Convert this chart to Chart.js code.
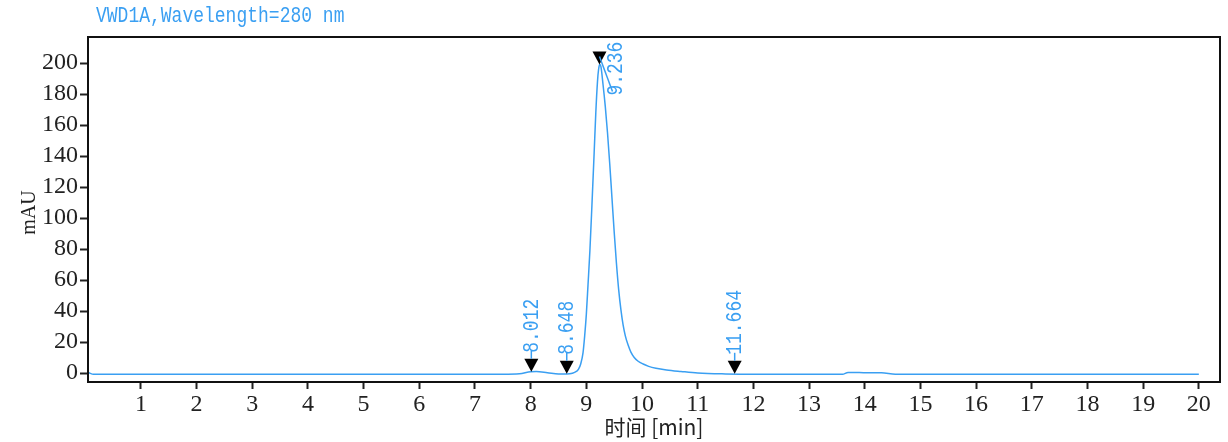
<!DOCTYPE html>
<html>
<head>
<meta charset="utf-8">
<script src="https://cdn.jsdelivr.net/npm/chart.js@4.4.1/dist/chart.umd.min.js"></script>
<style>
  html, body { margin: 0; padding: 0; background: #fff; }
  #wrap { width: 1228px; height: 442px; }
</style>
</head>
<body>
<div id="wrap"><canvas id="chromatogram" width="1228" height="442"></canvas></div>
<script>
// trace: retention time [min] / signal [mAU]
const times = [0, 0.05, 0.15, 2, 4, 6, 7.5, 7.8, 8.0, 8.1, 8.3, 8.5, 8.65, 8.75, 8.82, 8.86, 8.9, 8.94, 8.97, 9.0, 9.03, 9.064, 9.1, 9.14, 9.17, 9.2, 9.22, 9.24, 9.26, 9.3, 9.34, 9.38, 9.42, 9.46, 9.5, 9.54, 9.58, 9.62, 9.66, 9.7, 9.75, 9.8, 9.86, 9.93, 10.02, 10.12, 10.25, 10.44, 10.7, 11.0, 11.5, 12, 13.6, 13.7, 13.9, 14.1, 14.3, 14.55, 16, 18, 20];
const signal = [0.5, 0.3, -0.8, -0.8, -0.8, -0.8, -0.8, -0.5, 0.8, 0.9, 0.2, -0.6, -0.7, -0.2, 1, 2.5, 6, 13, 24, 38, 57, 79, 108, 142, 168, 188, 196, 199, 198, 186, 172, 155, 135, 113, 91, 71, 54, 41, 31, 24, 18, 13.5, 10, 7.6, 5.8, 4.3, 3.1, 2, 1, 0, -0.6, -0.8, -0.8, 0.4, 0.3, 0.1, 0.2, -0.8, -0.8, -0.8, -0.8];

// integration marks
const peakTimes = [8.012, 8.648, 9.236, 11.664];
const peakHeights = [0.8, -0.5, 199, -0.5];
const peakLabels = ['8.012', '8.648', '9.236', '11.664'];

const xTicks = [1, 2, 3, 4, 5, 6, 7, 8, 9, 10, 11, 12, 13, 14, 15, 16, 17, 18, 19, 20];
const yTicks = [0, 20, 40, 60, 80, 100, 120, 140, 160, 180, 200];

const blue = '#3a9ff2';

const decorations = {
    id: 'decorations',
    afterDraw(chart) {
        const ctx = chart.ctx;
        const a = chart.chartArea;
        const xs = chart.scales.x, ys = chart.scales.y;
        ctx.save();

        // frame
        ctx.strokeStyle = '#111';
        ctx.lineWidth = 2;
        ctx.strokeRect(a.left, a.top, a.right - a.left, a.bottom - a.top);

        // peak markers
        peakTimes.forEach((t, i) => {
            const px = xs.getPixelForValue(t);
            const py = ys.getPixelForValue(peakHeights[i]);
            ctx.fillStyle = '#000';
            ctx.beginPath();
            ctx.moveTo(px - 7, py - 13);
            ctx.lineTo(px + 7, py - 13);
            ctx.lineTo(px, py);
            ctx.closePath();
            ctx.fill();

            ctx.strokeStyle = blue;
            ctx.lineWidth = 1.5;
            let tx, ty;
            if (i === 2) {
                // label pushed down and right with a leader
                ctx.beginPath();
                ctx.moveTo(px, py - 8);
                ctx.lineTo(px + 13, py + 27);
                ctx.stroke();
                tx = px + 17; ty = py + 31;
            } else {
                ctx.beginPath();
                ctx.moveTo(px, py - 13);
                ctx.lineTo(px, py - 21);
                ctx.stroke();
                tx = px + 1; ty = py - 19;
            }
            ctx.save();
            ctx.translate(tx, ty);
            ctx.rotate(-Math.PI / 2);
            ctx.scale(1, 1.2);
            ctx.fillStyle = blue;
            ctx.font = '18px "Liberation Mono"';
            ctx.textAlign = 'left';
            ctx.textBaseline = 'middle';
            ctx.fillText(peakLabels[i], 0, 0);
            ctx.restore();
        });

        // title
        ctx.save();
        ctx.translate(96, 16);
        ctx.scale(1, 1.2);
        ctx.fillStyle = blue;
        ctx.font = '18px "Liberation Mono"';
        ctx.textAlign = 'left';
        ctx.textBaseline = 'middle';
        ctx.fillText('VWD1A,Wavelength=280 nm', 0, 0);
        ctx.restore();

        // axis titles
        ctx.fillStyle = '#222';
        ctx.textBaseline = 'middle';
        ctx.font = '21px "Noto Sans CJK SC"';
        ctx.textAlign = 'center';
        ctx.fillText('时间 [min]', (a.left + a.right) / 2, 427);

        ctx.save();
        ctx.translate(30, (a.top + a.bottom) / 2 + 3);
        ctx.rotate(-Math.PI / 2);
        ctx.font = '20px "Liberation Serif"';
        ctx.fillText('mAU', 0, 0);
        ctx.restore();

        ctx.restore();
    }
};

const ctxC = document.getElementById('chromatogram').getContext('2d');

new Chart(ctxC, {
    type: 'line',
    plugins: [decorations],
    data: {
        datasets: [{
            data: times.map((t, i) => ({ x: t, y: signal[i] })),
            borderColor: blue,
            borderWidth: 1.5,
            pointRadius: 0,
            fill: false,
            cubicInterpolationMode: 'monotone'
        }]
    },
    options: {
        responsive: false,
        animation: false,
        layout: { padding: { left: 0, top: 37, right: 8, bottom: 0 } },
        plugins: {
            legend: { display: false },
            tooltip: { enabled: false }
        },
        scales: {
            x: {
                type: 'linear',
                min: 0.05,
                max: 20.38,
                afterBuildTicks: (s) => { s.ticks = xTicks.map(v => ({ value: v })); },
                afterFit: (s) => { s.height = 60; },
                grid: { drawOnChartArea: false, tickLength: 7, tickWidth: 2, tickColor: '#222' },
                border: { display: false },
                ticks: {
                    color: '#222',
                    padding: 1,
                    maxRotation: 0,
                    autoSkip: false,
                    font: { family: 'Liberation Serif', size: 24 }
                }
            },
            y: {
                min: -5.8,
                max: 216.8,
                afterBuildTicks: (s) => { s.ticks = yTicks.map(v => ({ value: v })); },
                afterFit: (s) => { s.width = 88; },
                grid: { drawOnChartArea: false, tickLength: 8, tickWidth: 2, tickColor: '#222' },
                border: { display: false },
                ticks: {
                    color: '#222',
                    padding: 2,
                    autoSkip: false,
                    font: { family: 'Liberation Serif', size: 24 }
                }
            }
        }
    }
});
</script>
</body>
</html>
